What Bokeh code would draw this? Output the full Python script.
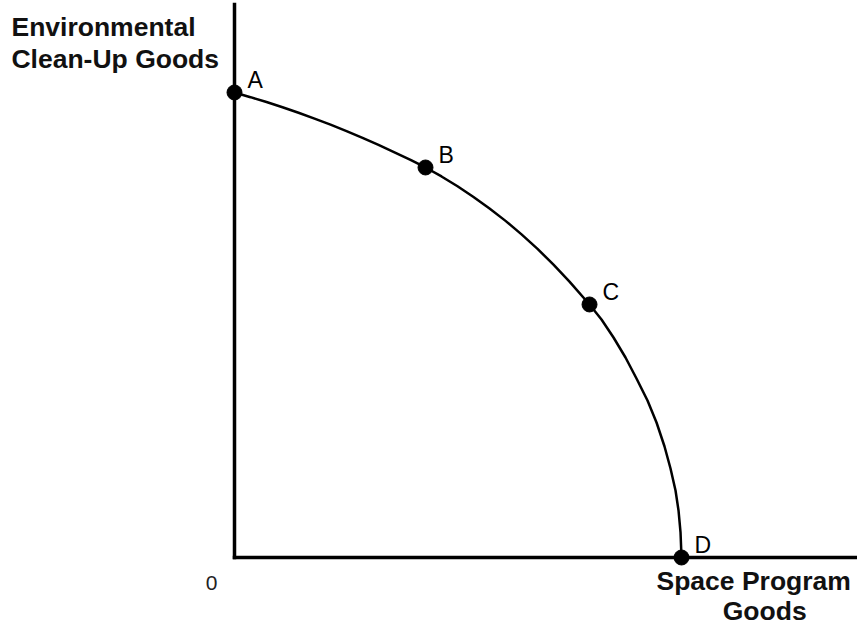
from bokeh.plotting import figure
from bokeh.models import LinearAxis, Range1d, FixedTicker
from bokeh.core.properties import value
from bokeh.embed import file_html
from bokeh.resources import INLINE

# Production possibilities frontier
# (x: space program goods, y: environmental clean-up goods; D = 100, A = 100)
curve_x = [0, 3.58, 7.16, 10.74, 14.32, 17.90, 21.48, 25.06, 28.64, 32.21, 35.79,
           39.37, 42.73, 46.31, 49.89, 53.47, 57.05, 60.63, 64.21, 67.79, 71.36,
           74.94, 79.42, 82.10, 84.79, 87.47, 89.93, 92.39, 94.41, 96.20, 97.54,
           98.66, 99.33, 99.78, 100]
curve_y = [100, 98.99, 97.94, 96.82, 95.63, 94.39, 93.08, 91.70, 90.24, 88.73, 87.14,
           85.51, 83.87, 81.94, 79.83, 77.53, 75.05, 72.39, 69.48, 66.37, 62.97,
           59.33, 54.41, 51.18, 47.31, 43.01, 38.49, 33.76, 29.03, 23.87, 19.14,
           14.41, 10.11, 5.38, 0]

point_labels = ["A", "B", "C", "D"]
point_x = [0, 42.73, 79.42, 100]
point_y = [100, 83.87, 54.41, 0]

y_title = ["Environmental", "Clean-Up Goods"]
x_title = ["Space Program", "Goods"]
origin_label = ["0"]

BOLD_FONT = "Liberation Sans"

p = figure(width=857, height=626,
           x_range=Range1d(-52.35, 139.37), y_range=Range1d(-14.84, 119.78),
           x_axis_type=None, y_axis_type=None,
           output_backend="svg", toolbar_location=None, min_border=0)
p.outline_line_color = None
p.background_fill_color = "white"
p.border_fill_color = "white"

for side, bounds in (("left", (0, 118.9)), ("below", (0, 139.37))):
    ax = LinearAxis(fixed_location=0, bounds=bounds, ticker=FixedTicker(ticks=[]))
    ax.axis_line_width = 3.5
    ax.axis_line_color = "black"
    ax.axis_line_cap = "square"
    ax.major_tick_line_color = None
    ax.minor_tick_line_color = None
    ax.major_label_text_color = None
    ax.major_label_text_font_size = "0px"
    p.add_layout(ax, side)

p.line(curve_x, curve_y, line_color="black", line_width=2.5)
p.scatter(point_x, point_y, size=15, fill_color="black", line_color="black")

p.text(point_x, point_y, text=point_labels, x_offset=13, y_offset=-12,
       text_font=value("Liberation Sans"), text_font_size="23px",
       text_baseline="alphabetic", text_align="left", text_color="black")

# axis titles
p.text([-49.9, -49.9], [114.17, 107.27], text=y_title,
       text_font=value(BOLD_FONT), text_font_style="bold", text_font_size="26.5px",
       text_baseline="alphabetic", text_align="left", text_color="#111111")
p.text([94.4], [-5.16], text=[x_title[0]],
       text_font=value(BOLD_FONT), text_font_style="bold", text_font_size="26.5px",
       text_baseline="alphabetic", text_align="left", text_color="#111111")
p.text([118.6], [-11.4], text=[x_title[1]],
       text_font=value(BOLD_FONT), text_font_style="bold", text_font_size="26.5px",
       text_baseline="alphabetic", text_align="center", text_color="#111111")
p.text([-5.15], [-5.58], text=origin_label,
       text_font=value("Liberation Sans"), text_font_size="21px",
       text_baseline="alphabetic", text_align="center", text_color="#222222")

open("out.html", "w").write(file_html(p, INLINE))
